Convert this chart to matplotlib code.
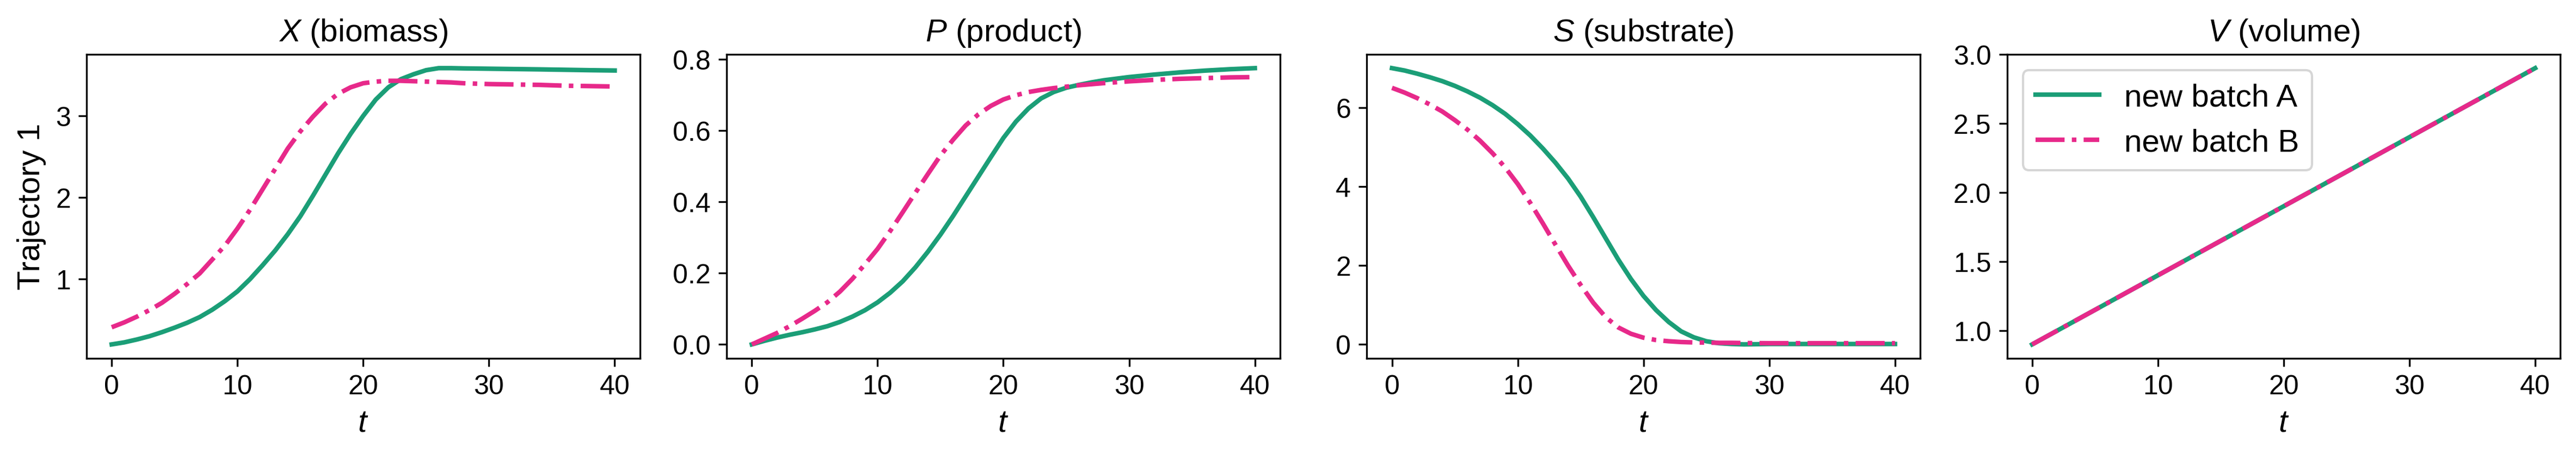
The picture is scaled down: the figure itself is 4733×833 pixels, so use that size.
import numpy as np
import matplotlib
matplotlib.use('Agg')
from matplotlib import pyplot as plt

plt.rcParams['font.family'] = ['Liberation Sans', 'DejaVu Sans']
plt.rcParams['mathtext.fontset'] = 'custom'
plt.rcParams['mathtext.rm'] = 'Liberation Sans'
plt.rcParams['mathtext.it'] = 'Liberation Sans:italic'

# time points (every unit up to 28, then every 2)
t = list(range(0, 29)) + [30, 32, 34, 36, 38, 40]

# biomass
X_A = [0.20, 0.225, 0.26, 0.30, 0.35, 0.405, 0.465, 0.535, 0.625, 0.73,
       0.85, 1.00, 1.17, 1.35, 1.55, 1.77, 2.02, 2.28, 2.54, 2.78,
       3.00, 3.20, 3.35, 3.45, 3.51, 3.56, 3.585, 3.585, 3.582,
       3.578, 3.574, 3.570, 3.565, 3.560, 3.556]
X_B = [0.41, 0.47, 0.54, 0.62, 0.71, 0.82, 0.94, 1.07, 1.24, 1.41,
       1.62, 1.85, 2.10, 2.35, 2.60, 2.81, 2.99, 3.15, 3.27, 3.35,
       3.40, 3.42, 3.43, 3.43, 3.425, 3.42, 3.415, 3.41, 3.40,
       3.39, 3.385, 3.38, 3.37, 3.365, 3.36]

# product
P_A = [0.0, 0.010, 0.019, 0.027, 0.034, 0.042, 0.051, 0.063, 0.078, 0.096,
       0.118, 0.145, 0.177, 0.216, 0.260, 0.308, 0.360, 0.415, 0.470, 0.525,
       0.579, 0.625, 0.662, 0.690, 0.708, 0.720, 0.728, 0.735, 0.741,
       0.750, 0.757, 0.763, 0.768, 0.772, 0.775]
P_B = [0.0, 0.016, 0.032, 0.051, 0.072, 0.094, 0.118, 0.148, 0.184, 0.225,
       0.268, 0.318, 0.371, 0.425, 0.478, 0.530, 0.574, 0.614, 0.645, 0.669,
       0.687, 0.699, 0.708, 0.714, 0.719, 0.723, 0.727, 0.730, 0.733,
       0.738, 0.742, 0.745, 0.747, 0.749, 0.750]

# substrate
S_A = [7.00, 6.94, 6.86, 6.77, 6.67, 6.55, 6.41, 6.25, 6.06, 5.84,
       5.58, 5.29, 4.96, 4.60, 4.20, 3.74, 3.22, 2.68, 2.14, 1.65,
       1.22, 0.86, 0.56, 0.32, 0.17, 0.07, 0.02, 0.0, -0.01,
       0.0, 0.0, 0.0, 0.0, 0.0, 0.0]
S_B = [6.50, 6.38, 6.24, 6.08, 5.90, 5.68, 5.44, 5.16, 4.84, 4.48,
       4.06, 3.58, 3.06, 2.52, 1.99, 1.50, 1.05, 0.68, 0.42, 0.26,
       0.16, 0.10, 0.07, 0.05, 0.04, 0.035, 0.03, 0.03, 0.025,
       0.02, 0.02, 0.02, 0.02, 0.02, 0.02]

# volume
t_V = [0, 10, 20, 30, 40]
V_A = [0.9, 1.4, 1.9, 2.4, 2.9]
V_B = [0.9, 1.4, 1.9, 2.4, 2.9]

titles = ['$X$ (biomass)', '$P$ (product)', '$S$ (substrate)', '$V$ (volume)']
green = '#1b9e77'
pink = '#e7298a'

fig, axes = plt.subplots(1, 4, figsize=(4733 / 300, 834 / 300), dpi=300)
fig.subplots_adjust(left=0.0336, right=0.9939, top=0.879, bottom=0.209, wspace=0.157)

data = [(t, X_A, X_B), (t, P_A, P_B), (t, S_A, S_B), (t_V, V_A, V_B)]
for ax, (tt, a, b), title in zip(axes, data, titles):
    ax.plot(tt, a, color=green, lw=2, label='new batch A')
    ax.plot(tt, b, color=pink, lw=2, ls='-.', label='new batch B')
    ax.set_title(title, fontsize=14)
    ax.set_xlabel('$t$', fontsize=14)
    ax.tick_params(labelsize=12)
    ax.set_xticks([0, 10, 20, 30, 40])

axes[0].set_ylabel('Trajectory 1', fontsize=14)
axes[0].set_yticks([1, 2, 3])
axes[3].legend(loc='upper left', fontsize=14)

fig.savefig('out.png', dpi=300)
